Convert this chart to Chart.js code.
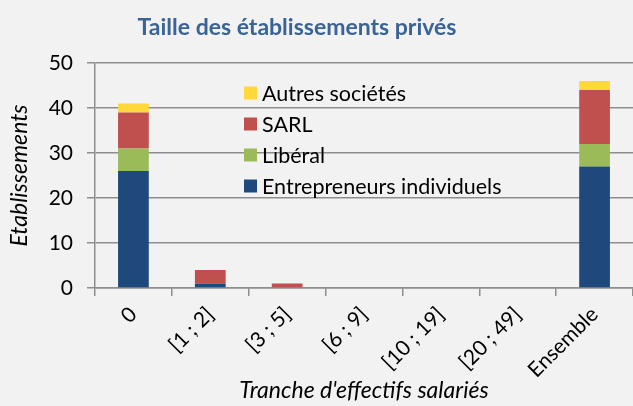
<!DOCTYPE html>
<html>
<head>
<meta charset="utf-8">
<script src="https://cdn.jsdelivr.net/npm/chart.js@4/dist/chart.umd.min.js"></script>
<style>
  html, body { margin: 0; padding: 0; background: #f2f2f2; }
  #wrap { width: 633px; height: 406px; }
</style>
</head>
<body>
<div id="wrap"><canvas id="tailleChart" width="633" height="406"></canvas></div>
<script>
const categories = ['0', '[1 ; 2]', '[3 ; 5]', '[6 ; 9]', '[10 ; 19]', '[20 ; 49]', 'Ensemble'];
const entrepreneurs = [26, 1, 0, 0, 0, 0, 27];
const liberal = [5, 0, 0, 0, 0, 0, 5];
const sarl = [8, 3, 1, 0, 0, 0, 12];
const autres = [2, 0, 0, 0, 0, 0, 2];
const yTicks = [0, 10, 20, 30, 40, 50];

const FONT = 'Lato, "Noto Sans", sans-serif';

// title + legend sit inside the plot, drawn by hand
const decorPlugin = {
  id: 'decor',
  afterDraw(chart) {
    const ctx = chart.ctx;
    ctx.save();
    ctx.fillStyle = '#3a6396';
    ctx.font = 'bold 23px ' + FONT;
    ctx.textAlign = 'center';
    ctx.textBaseline = 'middle';
    ctx.fillText('Taille des établissements privés', 297, 28);

    const items = chart.data.datasets.slice().reverse();
    ctx.font = '21.5px ' + FONT;
    ctx.textAlign = 'left';
    items.forEach((ds, i) => {
      const y = 93 + i * 31;
      ctx.fillStyle = ds.backgroundColor;
      ctx.fillRect(244, y - 6.5, 13, 13);
      ctx.fillStyle = '#000';
      ctx.fillText(ds.label, 262, y + 1);
    });
    ctx.restore();
  }
};

new Chart(document.getElementById('tailleChart').getContext('2d'), {
  type: 'bar',
  data: {
    labels: categories,
    datasets: [
      { label: 'Entrepreneurs individuels', data: entrepreneurs, backgroundColor: '#1f497d' },
      { label: 'Libéral', data: liberal, backgroundColor: '#9bbb59' },
      { label: 'SARL', data: sarl, backgroundColor: '#c0504d' },
      { label: 'Autres sociétés', data: autres, backgroundColor: '#ffd83c' },
    ],
  },
  options: {
    responsive: false,
    animation: false,
    layout: { padding: { top: 63, left: 0, right: 0, bottom: 0 } },
    datasets: { bar: { categoryPercentage: 1, barPercentage: 0.4 } },
    plugins: {
      legend: { display: false },
      title: { display: false },
      tooltip: { enabled: false },
    },
    scales: {
      x: {
        stacked: true,
        grid: { drawOnChartArea: false, drawTicks: true, tickLength: 8, color: '#8e8e8e', lineWidth: 1.5 },
        border: { color: '#8e8e8e', width: 1.5 },
        ticks: {
          color: '#000',
          font: { family: FONT, size: 21 },
          minRotation: 45,
          maxRotation: 45,
          padding: 6,
        },
        title: {
          display: true,
          text: "Tranche d'effectifs salariés",
          color: '#000',
          font: { family: FONT, size: 23, style: 'italic' },
          padding: { top: 0, bottom: 2 },
        },
        afterFit(scale) { scale.height = 118; },
      },
      y: {
        stacked: true,
        min: 0,
        max: 50,
        afterBuildTicks(scale) { scale.ticks = yTicks.map(v => ({ value: v })); },
        grid: { color: '#8e8e8e', lineWidth: 1.5, tickLength: 8 },
        border: { color: '#8e8e8e', width: 1.5 },
        ticks: {
          color: '#000',
          font: { family: FONT, size: 21 },
          padding: 14,
        },
        title: {
          display: true,
          text: 'Etablissements',
          color: '#000',
          font: { family: FONT, size: 23, style: 'italic' },
          padding: { top: 6, bottom: 0 },
        },
        afterFit(scale) { scale.width = 95; },
      },
    },
  },
  plugins: [decorPlugin],
});
</script>
</body>
</html>
